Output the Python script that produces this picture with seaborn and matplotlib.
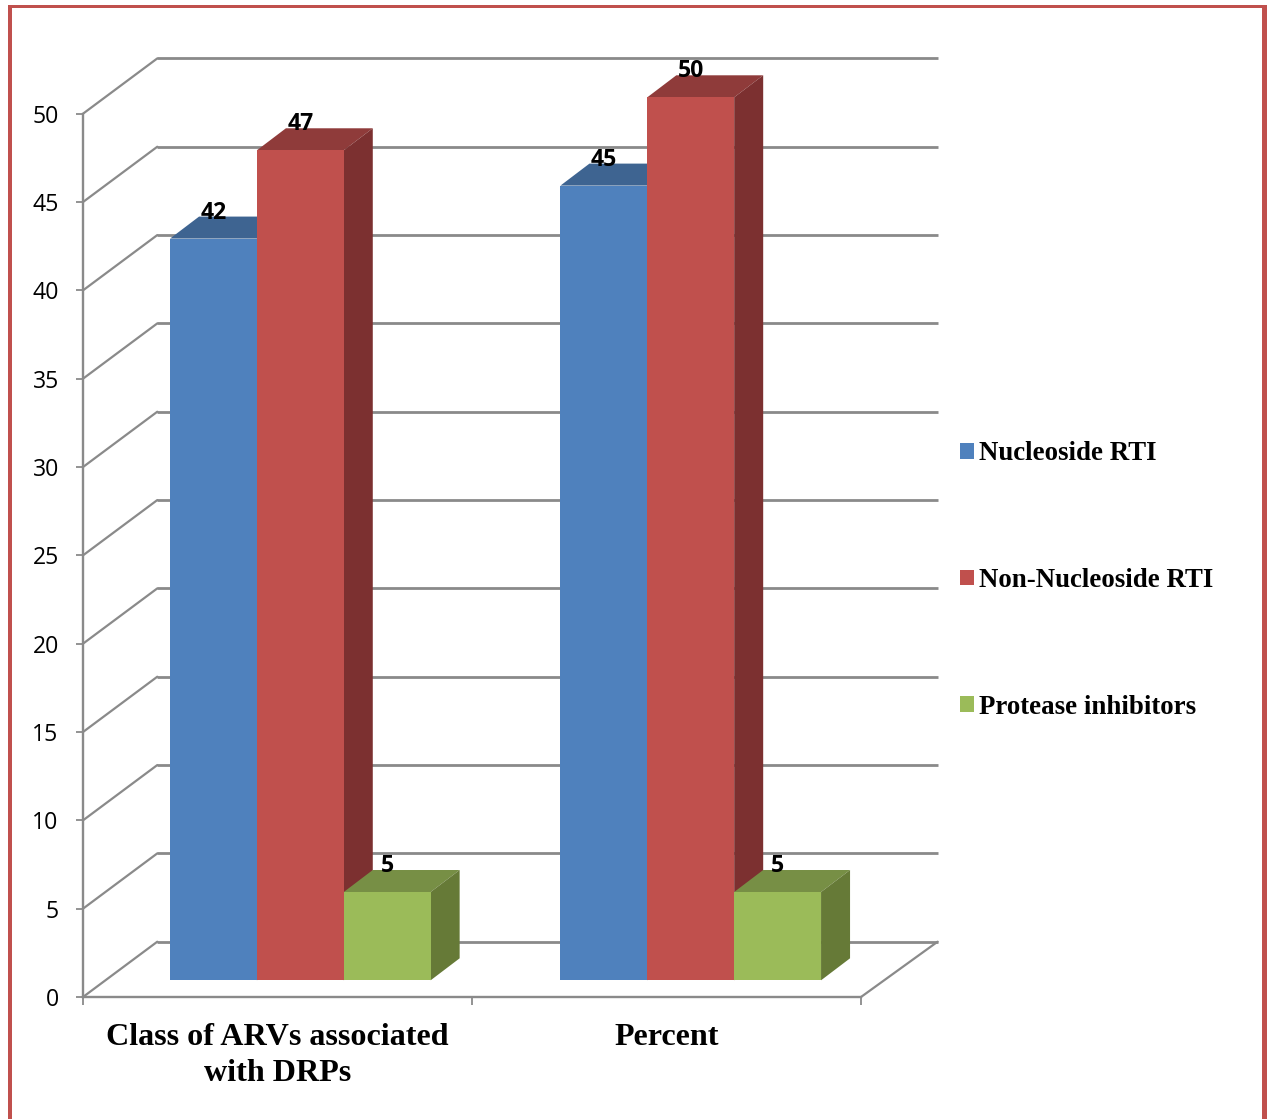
import matplotlib
matplotlib.use("Agg")
import matplotlib.pyplot as plt
from matplotlib.patches import Polygon, Rectangle
import pandas as pd
import seaborn as sns

# Chart values
categories = ["Class of ARVs associated\nwith DRPs", "Percent"]
series_names = ["Nucleoside RTI", "Non-Nucleoside RTI", "Protease inhibitors"]
nucleoside = [42, 45]
non_nucleoside = [47, 50]
protease = [5, 5]
value_ticks = [0, 5, 10, 15, 20, 25, 30, 35, 40, 45, 50]

# Face colours of each series: front, top, side
front_colors = ["#4F81BD", "#C0504D", "#9BBB59"]
top_colors = ["#3E6491", "#8F3B3A", "#778F45"]
side_colors = ["#3A5A80", "#7C3030", "#667A37"]
line_color = "#8A8A8A"
frame_color = "#C0504D"

W, H = 1267, 1119
SANS = "Open Sans"
SERIF = "Liberation Serif"

sns.set_theme(style="white")
plt.rcParams["font.family"] = [SANS, "DejaVu Sans"]

fig = plt.figure(figsize=(W / 100, H / 100), dpi=100, facecolor="white")


def axes_from_pixels(left, top, right, bottom):
    return fig.add_axes([left / W, 1 - bottom / H, (right - left) / W, (bottom - top) / H])


# Front plane of the box: carries the ticks, the spines and the receding grid
ax_box = axes_from_pixels(83, 113.7, 861, 997)
ax_box.set_xlim(0, 2)
ax_box.set_ylim(0, 50)
ax_box.set_zorder(1)
for name in ("top", "right"):
    ax_box.spines[name].set_visible(False)
for name in ("left", "bottom"):
    ax_box.spines[name].set_color(line_color)
    ax_box.spines[name].set_linewidth(1.7)

ax_box.set_yticks(value_ticks)
ax_box.tick_params(axis="y", which="major", left=True, length=5, width=1.3, color=line_color,
                   pad=12.5, labelsize=16.6, labelcolor="black")
ax_box.set_xticks([0, 1, 2], labels=["", "", ""])
ax_box.tick_params(axis="x", which="major", bottom=True, length=6, width=1.3, color=line_color)
ax_box.set_xticks([0.5, 1.5], labels=categories, minor=True)
ax_box.tick_params(axis="x", which="minor", bottom=False, length=0, pad=19, labelsize=23.1)
for label in ax_box.get_xticklabels(minor=True):
    label.set_family(SERIF)
    label.set_weight("bold")
    label.set_color("black")
    label.set_linespacing(1.31)
    label.set_verticalalignment("top")

# Depth of the box, expressed in the data units of its axes
box_dx = 74.3 / (778 / 2)
box_dy = 55.3 / (883.3 / 50)
box_right = 2 + 76.6 / (778 / 2)
for v in value_ticks:
    ax_box.plot([0, box_dx], [v, v + box_dy], color=line_color, lw=1.6, clip_on=False,
                solid_capstyle="round")
    ax_box.plot([box_dx, box_right], [v + box_dy, v + box_dy], color=line_color, lw=2.0,
                clip_on=False, solid_capstyle="butt")
ax_box.plot([2, box_right], [0, box_dy], color=line_color, lw=1.6, clip_on=False,
            solid_capstyle="round")

# Plane of the bar fronts, set slightly into the box
ax = axes_from_pixels(105.15, 97.3, 885.95, 980.3)
ax.set_zorder(2)
ax.patch.set_visible(False)

table = pd.DataFrame({"category": categories, series_names[0]: nucleoside,
                      series_names[1]: non_nucleoside, series_names[2]: protease})
long_table = table.melt(id_vars="category", var_name="series", value_name="value")
sns.barplot(data=long_table, x="category", y="value", hue="series", hue_order=series_names,
            palette=front_colors, saturation=1, width=0.6675, gap=0, linewidth=0, ax=ax)
ax.set_xlim(-0.5, 1.5)
ax.set_ylim(0, 50)
ax.set_axis_off()

# Extrude every bar: a top face and a side face behind its front
bar_dx = 29 / 390.4
bar_dy = 22 / (883 / 50)
for i, container in enumerate(ax.containers):
    base = 3 + i * 2
    for bar in container:
        x0, w, h = bar.get_x(), bar.get_width(), bar.get_height()
        x1 = x0 + w
        ax.add_patch(Polygon([(x0, h), (x0 + bar_dx, h + bar_dy), (x1 + bar_dx, h + bar_dy), (x1, h)],
                             closed=True, facecolor=top_colors[i], edgecolor="none",
                             zorder=base, clip_on=False))
        ax.add_patch(Polygon([(x1, 0), (x1 + bar_dx, bar_dy), (x1 + bar_dx, h + bar_dy), (x1, h)],
                             closed=True, facecolor=side_colors[i], edgecolor="none",
                             zorder=base, clip_on=False))
        bar.set_zorder(base + 1)
    labels = ax.bar_label(container, padding=10, fontsize=16.6, fontweight="bold", color="black",
                          family=SANS)
    for text in labels:
        text.set_zorder(20)
        text.set_clip_on(False)

# Legend to the right of the box
sns.move_legend(ax, loc="upper left", bbox_to_anchor=(960 / W, 1 - 441.5 / H),
                bbox_transform=fig.transFigure, frameon=False, title=None, ncol=1,
                prop={"family": SERIF, "weight": "bold", "size": 19.4},
                handlelength=0.52, handleheight=0.52, handletextpad=0.19,
                labelspacing=3.77, borderpad=0, borderaxespad=0, labelcolor="black")

# Outer frame; its lower edge lies beyond the figure
for x, y, w, h in [(8, 5, 4.3, H), (8, 5, W - 8, 3), (1262.3, 5, 4.7, H)]:
    fig.add_artist(Rectangle((x / W, 1 - (y + h) / H), w / W, h / H, transform=fig.transFigure,
                             facecolor=frame_color, edgecolor="none"))

fig.savefig("out.png", dpi=100, facecolor="white")
